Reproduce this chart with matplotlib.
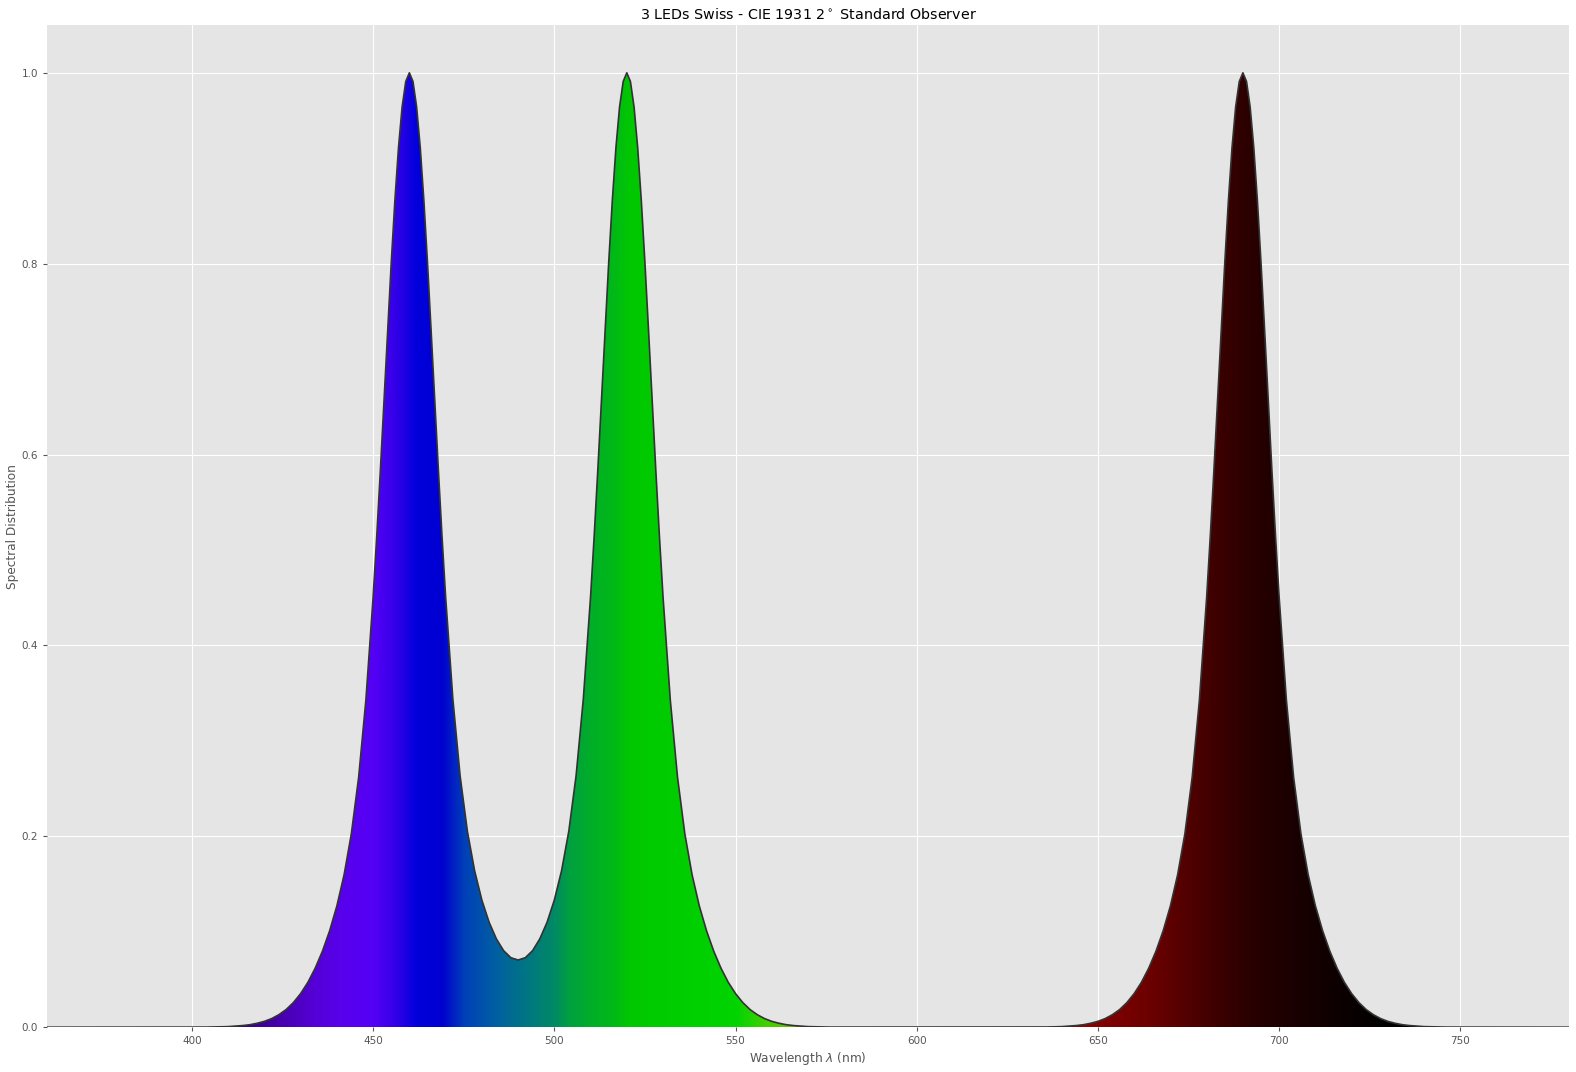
import matplotlib
matplotlib.use('Agg')
import matplotlib.pyplot as plt
import numpy as np
from matplotlib.patches import Polygon
from matplotlib.colors import LinearSegmentedColormap, to_rgb

# ── spectral distribution ────────────────────────────────────────────────────
# blue & green LEDs: 400-450 step 2, 450-470 step 1, 470-510 step 2,
# 510-530 step 1, 530-580 step 2
bg_wl = (list(range(400, 450, 2)) + list(range(450, 470)) + list(range(470, 510, 2))
         + list(range(510, 530)) + list(range(530, 582, 2)))
bg_val = [
    # 400 - 448
    0.0, 0.0001, 0.0001, 0.0002, 0.0004, 0.0006, 0.0011, 0.0017, 0.0026, 0.0041,
    0.0061, 0.0090, 0.0131, 0.0185, 0.0258, 0.0352, 0.0470, 0.0617, 0.0795, 0.1010,
    0.1271, 0.1599, 0.2029, 0.2617, 0.3428,
    # 450 - 469
    0.4506, 0.5144, 0.5836, 0.6562, 0.7297, 0.8009, 0.8661, 0.9217, 0.9642, 0.9909,
    1.0000, 0.9909, 0.9643, 0.9218, 0.8662, 0.8010, 0.7299, 0.6565, 0.5840, 0.5149,
    # 470 - 508
    0.4512, 0.3439, 0.2634, 0.2055, 0.1640, 0.1332, 0.1100, 0.0926, 0.0802, 0.0728,
    0.0704, 0.0728, 0.0802, 0.0926, 0.1100, 0.1332, 0.1640, 0.2055, 0.2634, 0.3439,
    # 510 - 529
    0.4512, 0.5149, 0.5840, 0.6565, 0.7299, 0.8010, 0.8662, 0.9218, 0.9643, 0.9909,
    1.0000, 0.9909, 0.9642, 0.9217, 0.8661, 0.8009, 0.7297, 0.6562, 0.5836, 0.5144,
    # 530 - 580
    0.4506, 0.3428, 0.2617, 0.2029, 0.1599, 0.1271, 0.1010, 0.0795, 0.0617, 0.0470,
    0.0352, 0.0258, 0.0185, 0.0131, 0.0090, 0.0061, 0.0041, 0.0026, 0.0017, 0.0011,
    0.0006, 0.0004, 0.0002, 0.0001, 0.0001, 0.0,
]
# red LED: 630-680 step 2, 680-700 step 1, 700-750 step 2
red_wl = list(range(630, 680, 2)) + list(range(680, 700)) + list(range(700, 752, 2))
red_val = [
    0.0, 0.0001, 0.0001, 0.0002, 0.0004, 0.0006, 0.0011, 0.0017, 0.0026, 0.0041,
    0.0061, 0.0090, 0.0131, 0.0185, 0.0258, 0.0352, 0.0470, 0.0617, 0.0795, 0.1010,
    0.1271, 0.1599, 0.2029, 0.2617, 0.3428,
    0.4506, 0.5144, 0.5836, 0.6562, 0.7297, 0.8009, 0.8661, 0.9217, 0.9642, 0.9909,
    1.0000, 0.9909, 0.9642, 0.9217, 0.8661, 0.8009, 0.7297, 0.6562, 0.5836, 0.5144,
    0.4506, 0.3428, 0.2617, 0.2029, 0.1599, 0.1271, 0.1010, 0.0795, 0.0617, 0.0470,
    0.0352, 0.0258, 0.0185, 0.0131, 0.0090, 0.0061, 0.0041, 0.0026, 0.0017, 0.0011,
    0.0006, 0.0004, 0.0002, 0.0001, 0.0001, 0.0,
]
wavelengths = [360, 380] + bg_wl + [600] + red_wl + [780]
values = [0.0, 0.0] + bg_val + [0.0] + red_val + [0.0]

# ── wavelength -> display colour stops ───────────────────────────────────────
stop_wl = [360, 380, 400, 410, 420, 425, 434, 443, 450, 456, 462, 469, 475,
           484, 493, 500, 504, 510, 516, 521, 550, 558, 580, 600, 620, 640,
           652, 665, 675, 684, 693, 702, 712, 721, 728, 780]
stop_col = ['#000000', '#100020', '#250050', '#330077', '#40009a', '#4800b0',
            '#5500d8', '#5800f0', '#5400f5', '#3300e8', '#0000dc', '#0000d0',
            '#0040b8', '#0060a0', '#007880', '#008a64', '#00a040', '#00ae28',
            '#00b818', '#00c800', '#00d400', '#40d000', '#a0b000', '#d07000',
            '#c03000', '#a00000', '#800000', '#6a0000', '#500000', '#3a0000',
            '#280000', '#1c0000', '#120000', '#080000', '#020000', '#000000']

fig = plt.figure(figsize=(15.76, 10.72), dpi=100)
fig.patch.set_facecolor('white')
ax = fig.add_axes([0.0298, 0.0418, 0.9658, 0.9348])
ax.set_facecolor('#E5E5E5')
for s in ax.spines.values():
    s.set_visible(False)
ax.grid(True, color='white', lw=0.8)
ax.set_axisbelow(True)

# gradient clipped by the distribution
lo, hi = stop_wl[0], stop_wl[-1]
cmap = LinearSegmentedColormap.from_list(
    'spec', [((w - lo) / (hi - lo), to_rgb(c)) for w, c in zip(stop_wl, stop_col)], N=1024)
grid_wl = np.arange(lo, hi + 1)
img = cmap((grid_wl - lo) / (hi - lo))[np.newaxis, :, :3]

verts = np.column_stack([wavelengths, values])
verts = np.vstack([[wavelengths[0], 0], verts, [wavelengths[-1], 0]])
poly = Polygon(verts, closed=True, facecolor='none', edgecolor='none')
ax.add_patch(poly)
im = ax.imshow(img, extent=[lo - 0.5, hi + 0.5, 0, 1.05], aspect='auto',
               interpolation='bilinear', zorder=2)
im.set_clip_path(poly)

ax.plot(wavelengths, values, color='#333333', lw=1.2, zorder=3)

ax.set_xlim(360, 780)
ax.set_ylim(0, 1.05)
ax.set_xticks([400, 450, 500, 550, 600, 650, 700, 750])
ax.set_yticks([0.0, 0.2, 0.4, 0.6, 0.8, 1.0])
ax.tick_params(colors='#555555', labelsize=7.5, length=3, width=0.8)
ax.set_xlabel('Wavelength $\\lambda$ (nm)', fontsize=8.7, color='#555555', labelpad=2.5)
ax.set_ylabel('Spectral Distribution', fontsize=8.7, color='#555555', labelpad=1.5)
ax.set_title('3 LEDs Swiss - CIE 1931 2$^\\circ$ Standard Observer', fontsize=10.3, pad=4.5)

fig.savefig('out.png', dpi=100, facecolor=fig.get_facecolor())
